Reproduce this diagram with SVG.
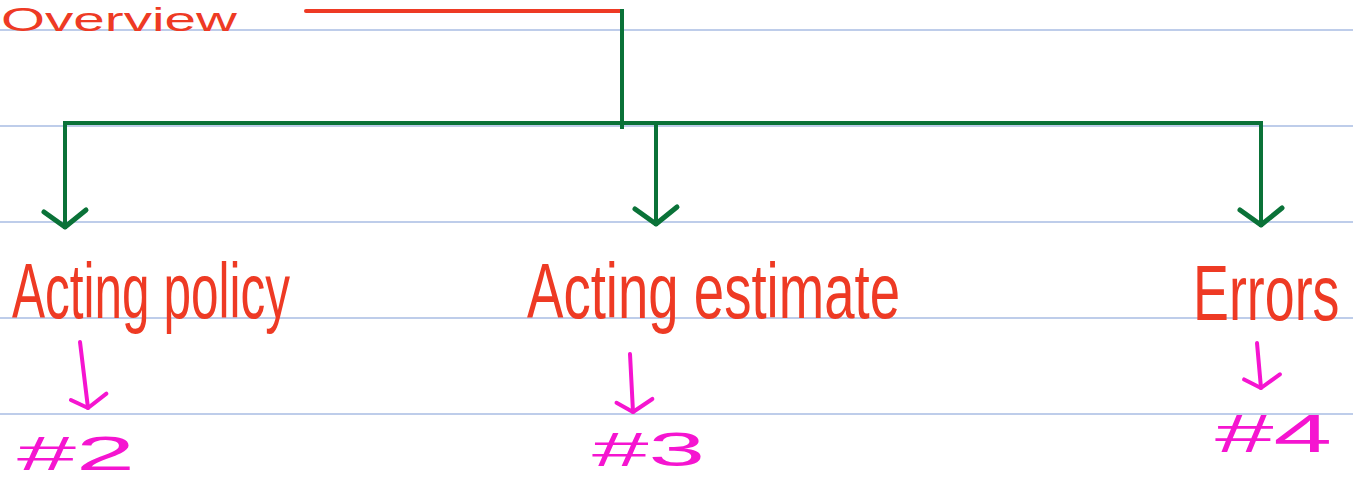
<svg xmlns="http://www.w3.org/2000/svg" width="1353" height="481" viewBox="0 0 1353 481">
<defs>
<style>
.rule{stroke:#a9bde3;stroke-width:1.5}
.red{fill:none;stroke:#ee3a24;stroke-width:4;stroke-linecap:round}
.grn{fill:none;stroke:#0a7238;stroke-width:4;stroke-linecap:square;stroke-linejoin:miter}
.mag{fill:none;stroke:#f515d0;stroke-width:4;stroke-linecap:round}
.hw{font-family:"Liberation Sans","DejaVu Sans",sans-serif;fill:#ee3a24}
.num{font-family:"Liberation Sans","DejaVu Sans",sans-serif;fill:#f515d0}
</style>
<marker id="gh" markerUnits="userSpaceOnUse" markerWidth="50" markerHeight="60" viewBox="-25 -30 50 60" refX="0" refY="0" orient="auto">
<path d="M-17,-21 L0,0 L-15,21" fill="none" stroke="#0a7238" stroke-width="5" stroke-linecap="round" stroke-linejoin="round"/>
</marker>
<marker id="mh" markerUnits="userSpaceOnUse" markerWidth="40" markerHeight="50" viewBox="-20 -25 40 50" refX="0" refY="0" orient="auto">
<path d="M-12,-20 L0,0 L-10,16" fill="none" stroke="#f515d0" stroke-width="4" stroke-linecap="round" stroke-linejoin="round"/>
</marker>
</defs>
<rect width="1353" height="481" fill="#ffffff"/>
<g id="rules">
<line class="rule" x1="0" y1="30" x2="1353" y2="30"/>
<line class="rule" x1="0" y1="126" x2="1353" y2="126"/>
<line class="rule" x1="0" y1="222" x2="1353" y2="222"/>
<line class="rule" x1="0" y1="318" x2="1353" y2="318"/>
<line class="rule" x1="0" y1="414" x2="1353" y2="414"/>
</g>
<g id="node-overview">
<text class="hw" x="1" y="31" font-size="34" textLength="236" lengthAdjust="spacingAndGlyphs">Overview</text>
</g>
<g id="node-acting-policy">
<text class="hw" x="12" y="318" font-size="78" textLength="278" lengthAdjust="spacingAndGlyphs">Acting policy</text>
</g>
<g id="node-acting-estimate">
<text class="hw" x="527" y="318" font-size="78" textLength="373" lengthAdjust="spacingAndGlyphs">Acting estimate</text>
</g>
<g id="node-errors">
<text class="hw" transform="translate(1193,320) scale(0.69,1)" x="0" y="0" font-size="78">Errors</text>
</g>
<g id="node-2">
<text class="num" x="17" y="470" font-size="48" textLength="118" lengthAdjust="spacingAndGlyphs">#2</text>
</g>
<g id="node-3">
<text class="num" x="592" y="466" font-size="48" textLength="113" lengthAdjust="spacingAndGlyphs">#3</text>
</g>
<g id="node-4">
<text class="num" x="1215" y="452" font-size="54" textLength="117" lengthAdjust="spacingAndGlyphs">#4</text>
</g>
<g id="connectors">
<line class="red" x1="306" y1="11" x2="622" y2="11"/>
<polyline class="grn" points="622,11 622,127"/>
<line class="grn" x1="65" y1="123" x2="1261" y2="123"/>
<line class="grn" x1="65" y1="123" x2="65" y2="227" marker-end="url(#gh)"/>
<line class="grn" x1="656" y1="123" x2="656" y2="224" marker-end="url(#gh)"/>
<line class="grn" x1="1261" y1="123" x2="1261" y2="225" marker-end="url(#gh)"/>
<line class="mag" x1="80" y1="342" x2="88" y2="408" marker-end="url(#mh)"/>
<line class="mag" x1="630" y1="354" x2="633" y2="412" marker-end="url(#mh)"/>
<line class="mag" x1="1257" y1="343" x2="1261" y2="388" marker-end="url(#mh)"/>
</g>
</svg>
